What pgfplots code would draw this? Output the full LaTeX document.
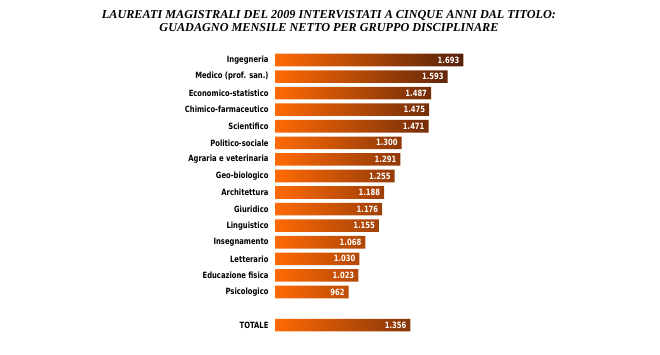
\documentclass[border=0pt]{standalone}
\usepackage{pgfplots}
\pgfplotsset{compat=1.18}
\usepackage{fontspec}
\setmainfont{Liberation Serif}
\newfontfamily\labfont[FakeStretch=0.88]{DejaVu Sans Condensed}
\definecolor{barL}{HTML}{FF6A05}
\definecolor{barR}{HTML}{55200A}
\begin{document}
\begin{tikzpicture}
\path[use as bounding box] (0pt,0pt) rectangle (660pt,355pt);
\node[font=\fontsize{12.2}{14}\selectfont\bfseries\itshape] at (329pt,340pt) {LAUREATI MAGISTRALI DEL 2009 INTERVISTATI A CINQUE ANNI DAL TITOLO:};
\node[font=\fontsize{12.2}{14}\selectfont\bfseries\itshape] at (329pt,327pt) {GUADAGNO MENSILE NETTO PER GRUPPO DISCIPLINARE};
\begin{axis}[
  at={(275pt,303.3pt)}, anchor=north west,
  scale only axis, width=189.4pt, height=281.7pt,
  xmin=492, xmax=1700, ymin=-0.5, ymax=16.5, y dir=reverse,
  axis line style={draw=none}, clip=true,
  xtick=\empty,
  xbar, bar width=12.6pt,
  ytick={0,1,2,3,4,5,6,7,8,9,10,11,12,13,14,16},
  yticklabels={Ingegneria,Medico (prof. san.),Economico-statistico,Chimico-farmaceutico,Scientifico,Politico-sociale,Agraria e veterinaria,Geo-biologico,Architettura,Giuridico,Linguistico,Insegnamento,Letterario,Educazione fisica,Psicologico,TOTALE},
  major tick length=0pt,
  yticklabel style={font=\labfont\bfseries\fontsize{8.6}{9}\selectfont, anchor=east, xshift=-3pt},
  nodes near coords={\pgfmathprintnumber[assume math mode=true,1000 sep={.}]{\pgfplotspointmeta}},
  nodes near coords style={font=\labfont\bfseries\fontsize{8.6}{9}\selectfont, text=white, anchor=east, xshift=-0.5pt},
]
\addplot[draw=none, left color=barL, right color=barR, shading=axis] coordinates {
(1693,0) (1593,1) (1487,2) (1475,3) (1471,4) (1300,5) (1291,6) (1255,7) (1188,8) (1176,9) (1155,10) (1068,11) (1030,12) (1023,13) (962,14) (1356,16)
};
\end{axis}
\end{tikzpicture}
\end{document}
